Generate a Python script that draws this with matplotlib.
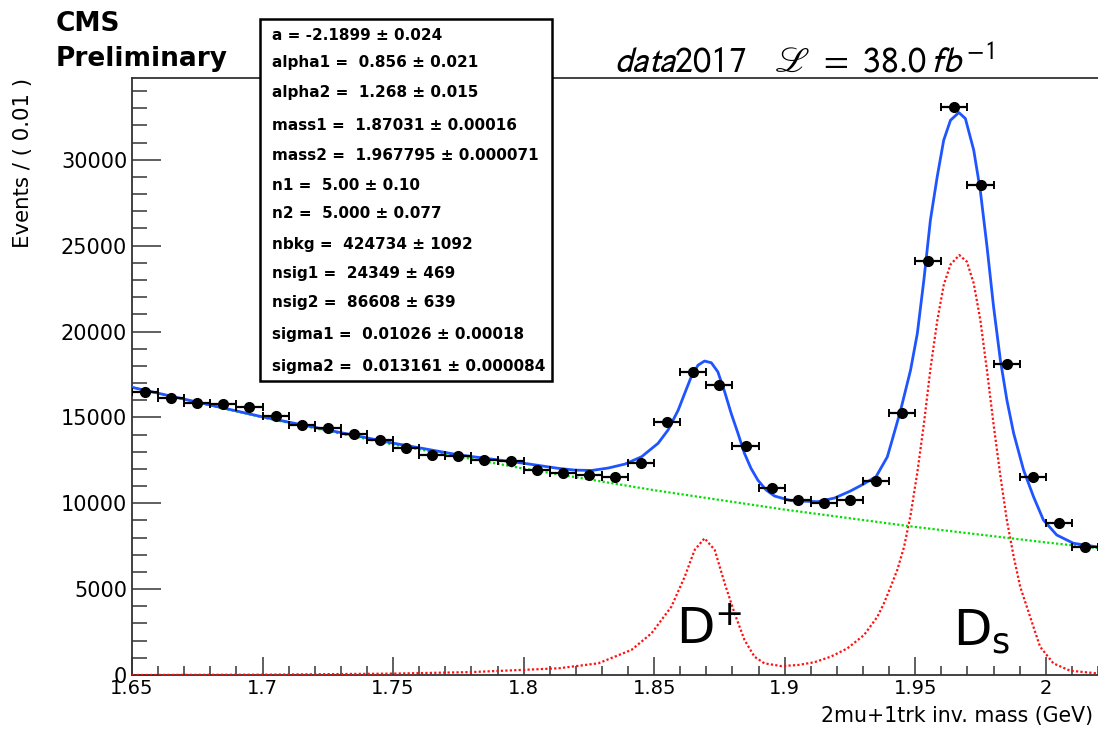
import matplotlib
matplotlib.use("Agg")
import matplotlib.pyplot as plt
from matplotlib.patches import Rectangle
from matplotlib.ticker import MultipleLocator, FixedLocator, FixedFormatter

# ---------------- data ----------------
bin_centers = [1.655, 1.665, 1.675, 1.685, 1.695, 1.705, 1.715, 1.725, 1.735, 1.745,
               1.755, 1.765, 1.775, 1.785, 1.795, 1.805, 1.815, 1.825, 1.835, 1.845,
               1.855, 1.865, 1.875, 1.885, 1.895, 1.905, 1.915, 1.925, 1.935, 1.945,
               1.955, 1.965, 1.975, 1.985, 1.995, 2.005, 2.015]
counts = [16500, 16100, 15850, 15750, 15600, 15100, 14550, 14400, 14050, 13700,
          13200, 12800, 12750, 12500, 12450, 11950, 11750, 11650, 11500, 12350,
          14750, 17620, 16870, 13320, 10900, 10200, 9990, 10200, 11320,
          15230, 24120, 33050, 28550, 18100, 11550, 8850, 7460]
bin_half_width = 0.005

# total fit (blue)
total_x = [1.650, 1.700, 1.750, 1.775, 1.800, 1.8134, 1.8197, 1.8261, 1.8324, 1.8388,
           1.8452, 1.8515, 1.8553, 1.8592, 1.8617, 1.8642, 1.8668, 1.8693, 1.8719,
           1.8744, 1.8770, 1.8795, 1.8821, 1.8846, 1.8871, 1.8897, 1.8929, 1.8961,
           1.9024, 1.9126, 1.9190, 1.9250, 1.9300, 1.9350, 1.9393, 1.9412, 1.9444,
           1.9482, 1.9508, 1.9533, 1.9558, 1.9584, 1.9609, 1.9635, 1.9667, 1.9692,
           1.9724, 1.9749, 1.9775, 1.9800, 1.9826, 1.9851, 1.9877, 1.9915, 1.9953,
           1.9991, 2.0042, 2.0106, 2.0200]
total_y = [16750, 15030, 13500, 12820, 12330, 12030, 11930, 11910, 12050, 12280,
           12710, 13490, 14260, 15420, 16400, 17360, 18040, 18280, 18180,
           17650, 16490, 15230, 14070, 12900, 12030, 11350, 10770, 10420,
           10150, 10090, 10300, 10700, 11100, 11550, 12700, 13700, 15420,
           17750, 19890, 22990, 26480, 29000, 31140, 32300, 32750, 32400,
           30560, 28230, 24930, 21440, 18340, 16010, 14070, 11930, 10380,
           9020, 8150, 7670, 7450]

# background component (green)
bkg_x = [1.65, 1.70, 1.75, 1.80, 1.85, 1.90, 1.95, 2.00, 2.02]
bkg_y = [16750, 15000, 13420, 12020, 10760, 9630, 8620, 7720, 7390]

# signal component (red)
sig_x = [1.650, 1.700, 1.750, 1.780, 1.800, 1.8134, 1.8286, 1.8413, 1.8490, 1.8566,
         1.8617, 1.8655, 1.8693, 1.8732, 1.8770, 1.8808, 1.8846, 1.8884, 1.8922,
         1.8986, 1.9050, 1.9113, 1.9177, 1.9240, 1.9304, 1.9355, 1.9380, 1.9406,
         1.9431, 1.9457, 1.9482, 1.9508, 1.9533, 1.9558, 1.9584, 1.9609, 1.9635,
         1.9669, 1.9698, 1.9724, 1.9749, 1.9775, 1.9800, 1.9826, 1.9851, 1.9877,
         1.9902, 1.9940, 1.9978, 2.0029, 2.0093, 2.0200]
sig_y = [0, 20, 80, 170, 300, 390, 680, 1460, 2430, 3980,
         5720, 7280, 7960, 7280, 5340, 3590, 2040, 1070, 680,
         520, 580, 740, 1070, 1550, 2330, 3390, 4170, 5140,
         6110, 7450, 9300, 11800, 14600, 17800, 20600, 22700, 23900,
         24450, 24060, 22800, 20700, 17700, 14600, 11600, 9000, 6900,
         5140, 3390, 1650, 680, 250, 90]

x_tick_vals = [1.65, 1.70, 1.75, 1.80, 1.85, 1.90, 1.95, 2.00]
x_tick_labels = ["1.65", "1.7", "1.75", "1.8", "1.85", "1.9", "1.95", "2"]
y_tick_vals = [0, 5000, 10000, 15000, 20000, 25000, 30000]

fit_params = ["a = -2.1899 \u00b1 0.024",
              "alpha1 =  0.856 \u00b1 0.021",
              "alpha2 =  1.268 \u00b1 0.015",
              "mass1 =  1.87031 \u00b1 0.00016",
              "mass2 =  1.967795 \u00b1 0.000071",
              "n1 =  5.00 \u00b1 0.10",
              "n2 =  5.000 \u00b1 0.077",
              "nbkg =  424734 \u00b1 1092",
              "nsig1 =  24349 \u00b1 469",
              "nsig2 =  86608 \u00b1 639",
              "sigma1 =  0.01026 \u00b1 0.00018",
              "sigma2 =  0.013161 \u00b1 0.000084"]

# ---------------- figure ----------------
W, H = 1098, 729
plt.rcParams['font.family'] = ['DejaVu Sans']
fig = plt.figure(figsize=(W / 100, H / 100), dpi=100)

def fx(px):
    return px / W

def fy(py):
    return 1 - py / H

ax = fig.add_axes([fx(132), fy(675), fx(1098) - fx(132), fy(78) - fy(675)])
ax.set_xlim(1.65, 2.02)
ax.set_ylim(0, 34760)

ax.xaxis.set_major_locator(FixedLocator(x_tick_vals))
ax.xaxis.set_major_formatter(FixedFormatter(x_tick_labels))
ax.xaxis.set_minor_locator(MultipleLocator(0.01))
ax.yaxis.set_major_locator(FixedLocator(y_tick_vals))
ax.yaxis.set_minor_locator(MultipleLocator(1000))

ax.tick_params(which='both', direction='in', color='#444444', width=1.2,
               top=False, right=False)
ax.tick_params(axis='x', which='major', length=13, pad=3, labelsize=14)
ax.tick_params(axis='x', which='minor', length=6.5)
ax.tick_params(axis='y', which='major', length=21, pad=3.5, labelsize=15)
ax.tick_params(axis='y', which='minor', length=10.5)
for s in ['left', 'bottom', 'top']:
    ax.spines[s].set_linewidth(1.3)
    ax.spines[s].set_color('#333333')
ax.spines['right'].set_visible(False)

# curves
ax.plot(sig_x, sig_y, color='#ff1010', ls=(0, (1, 1)), lw=1.6, zorder=3)
ax.plot(bkg_x, bkg_y, color='#00e000', ls=(0, (1, 1)), lw=1.6, zorder=3)
ax.plot(total_x, total_y, color='#1f55ff', lw=2.0, zorder=4)

# data
ax.errorbar(bin_centers, counts, xerr=bin_half_width, fmt='o', color='black',
            ms=7, elinewidth=1.6, capsize=3.0, capthick=1.4, zorder=5)

# axis titles
fig.text(fx(23), fy(78), "Events / ( 0.01 )", rotation=90, ha='center', va='top',
         fontsize=15.3)
fig.text(fx(1093), fy(722), "2mu+1trk inv. mass (GeV)", ha='right', va='baseline',
         fontsize=14.8)

fig.text(fx(56), fy(31), "CMS", ha='left', va='baseline', fontsize=19, fontweight='bold')
fig.text(fx(56), fy(66), "Preliminary", ha='left', va='baseline', fontsize=19,
         fontweight='bold')

fig.text(fx(614), fy(71),
         r"$\mathit{data}\mathrm{2017}\quad\mathscr{L}\ =\ \mathrm{38.0}\,\mathit{fb}^{-1}$",
         ha='left', va='baseline', fontsize=26, math_fontfamily='stixsans')

# stats box
box = Rectangle((fx(260), fy(381)), fx(552) - fx(260), fy(19) - fy(381),
                transform=fig.transFigure, facecolor='white', edgecolor='black',
                lw=1.8, zorder=10)
fig.add_artist(box)
row_y = [35, 63, 92, 125, 155, 185, 214, 244, 274, 303, 334, 366]
for ty, txt in zip(row_y, fit_params):
    fig.text(fx(272), fy(ty), txt, ha='left', va='center', fontsize=11,
             fontweight='bold', zorder=11)

# peak labels
ax.text(1.8713, 1750, r"$\mathregular{D^{+}}$", fontsize=36,
        family='DejaVu Sans', ha='center', va='baseline', zorder=6)
ax.text(1.9755, 1750, r"$\mathregular{D_{s}}$", fontsize=36,
        family='DejaVu Sans', ha='center', va='baseline', zorder=6)

fig.savefig("out.png", dpi=100)
